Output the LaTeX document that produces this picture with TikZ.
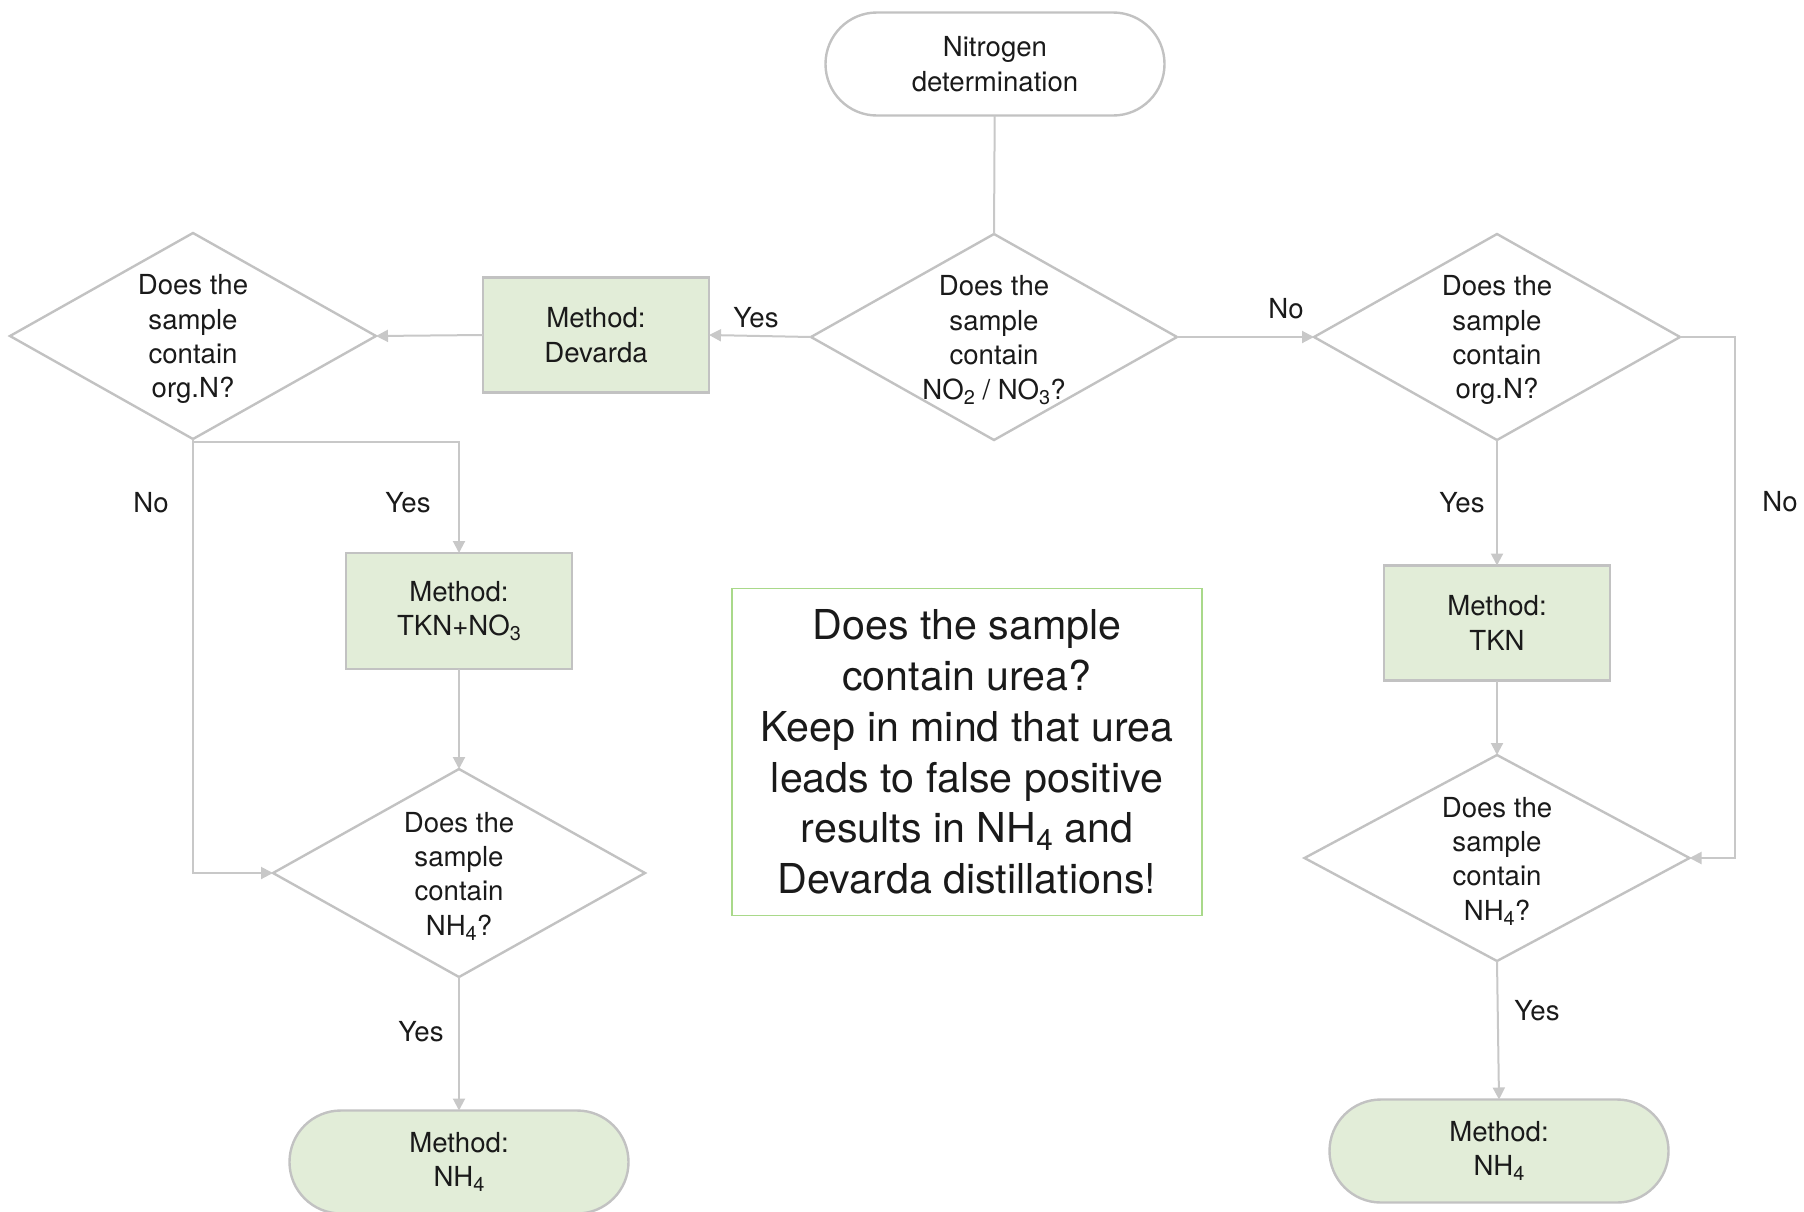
\documentclass[tikz,border=0pt]{standalone}
\usepackage{fontspec}
\setmainfont{TeX Gyre Heros}
\usetikzlibrary{shapes.geometric,arrows.meta}
\definecolor{linegray}{HTML}{C8C8C8}
\definecolor{bordergray}{HTML}{C2C2C2}
\definecolor{boxgreen}{HTML}{E2EDD8}
\definecolor{notegreen}{HTML}{A9D98A}
\definecolor{txt}{HTML}{1A1A1A}
\newcommand\subsc[1]{\raisebox{-0.35ex}{\scalebox{0.72}{#1}}}
\begin{document}
\begin{tikzpicture}[x=0.5pt,y=-0.5pt,
  base/.style={font=\fontsize{13.8}{17.2}\selectfont, text=txt, align=center},
  term/.style={base, draw=bordergray, line width=1.2pt, rounded corners=25.7pt,
    minimum width=169.5pt, minimum height=51.5pt, inner sep=0pt, outer sep=0pt},
  methbox/.style={base, draw=bordergray, fill=boxgreen, line width=1.2pt,
    minimum width=113pt, minimum height=57.5pt, inner sep=0pt, outer sep=0pt},
  decision/.style={diamond, draw=bordergray, line width=1.2pt, inner sep=0pt, outer sep=0pt,
    minimum width=183pt, minimum height=103pt},
  dtext/.style={base, inner sep=0pt, yshift=-1.6pt},
  lbl/.style={base, inner sep=0pt},
  arr/.style={draw=linegray, line width=1pt, -{Triangle[length=6pt,width=6pt]}},
  plain/.style={draw=linegray, line width=1pt},
  note/.style={draw=notegreen, line width=0.8pt, minimum width=235pt, minimum height=163.5pt,
    inner sep=0pt, align=center, text=txt, font=\fontsize{20.6}{25.4}\selectfont}]

\useasboundingbox (0,0) rectangle (1804,1211);

% nodes
\node[term] (start) at (995,64) {Nitrogen\\determination};

\node[decision] (d1) at (994,337) {};
\node[dtext] (d1t) at (994,337) {Does the\\sample\\contain\\NO\subsc{2} / NO\subsc{3}?};

\node[methbox] (dev) at (596,335) {Method:\\Devarda};

\node[decision] (dl) at (193,336) {};
\node[dtext] (dlt) at (193,336) {Does the\\sample\\contain\\org.N?};

\node[decision] (dr) at (1497,337) {};
\node[dtext] (drt) at (1497,337) {Does the\\sample\\contain\\org.N?};

\node[methbox, minimum height=58pt] (tkn3) at (459,611) {Method:\\TKN+NO\subsc{3}};

\node[decision, minimum width=186pt, minimum height=104pt] (dnl) at (459,873) {};
\node[dtext] (dnlt) at (459,873) {Does the\\sample\\contain\\NH\subsc{4}?};

\node[term, fill=boxgreen] (ntl) at (459,1162) {Method:\\NH\subsc{4}};

\node[methbox] (tkn) at (1497,623) {Method:\\TKN};

\node[decision, minimum width=192.5pt] (dnr) at (1497,858) {};
\node[dtext] (dnrt) at (1497,858) {Does the\\sample\\contain\\NH\subsc{4}?};

\node[term, fill=boxgreen] (ntr) at (1499,1151) {Method:\\NH\subsc{4}};

\node[note] (nt) at (967,752) {Does the sample\\contain urea?\\Keep in mind that urea\\leads to false positive\\results in NH\subsc{4} and\\Devarda distillations!};

% connectors
\draw[plain] (start) -- (d1.north);
\draw[arr] (d1.west) -- (dev.east);
\draw[arr] (dev.west) -- (dl.east);
\draw[arr] (d1.east) -- (dr.west);
\draw[arr] (dl.south) -- ++(0,3) -| (tkn3.north);
\draw[arr] (dl.south) |- (dnl.west);
\draw[arr] (tkn3.south) -- (dnl.north);
\draw[arr] (dnl.south) -- (ntl.north);
\draw[arr] (dr.south) -- (tkn.north);
\draw[arr] (tkn.south) -- (dnr.north);
\draw[arr] (dr.east) -- ++(55,0) |- (dnr.east);
\draw[arr] (dnr.south) -- (ntr.north);

% labels
\node[lbl] (l1) at (756,318) {Yes};
\node[lbl] (l2) at (1286,309) {No};
\node[lbl] (l3) at (151,503) {No};
\node[lbl] (l4) at (408,503) {Yes};
\node[lbl] (l5) at (1462,503) {Yes};
\node[lbl] (l6) at (1780,502) {No};
\node[lbl] (l7) at (421,1032) {Yes};
\node[lbl] (l8) at (1537,1011) {Yes};
\end{tikzpicture}
\end{document}
